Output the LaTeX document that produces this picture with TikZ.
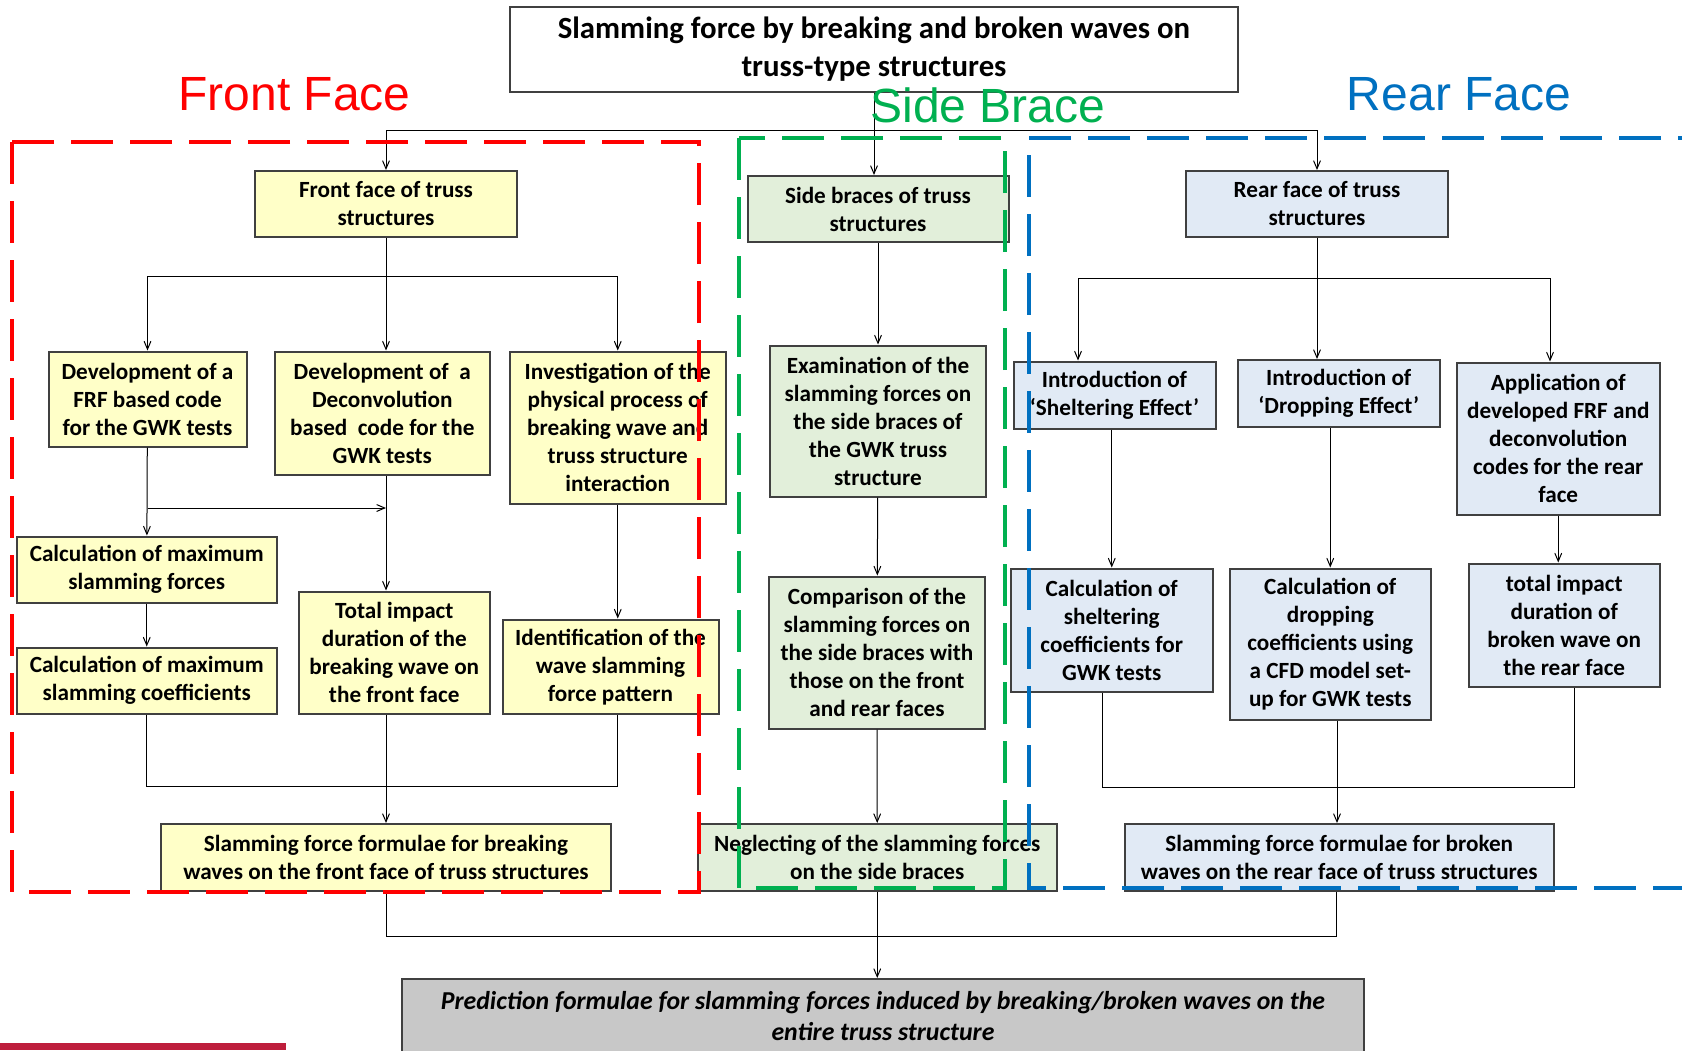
\documentclass[tikz,border=0pt]{standalone}
\usepackage{fontspec}
\setmainfont{Carlito}
\newfontfamily\headfont{Liberation Sans}
\usetikzlibrary{arrows}

\definecolor{faceyellow}{RGB}{255,255,200}
\definecolor{bracegreen}{RGB}{226,239,218}
\definecolor{rearblue}{RGB}{225,234,245}
\definecolor{predgray}{RGB}{200,200,200}
\definecolor{linered}{RGB}{255,0,0}
\definecolor{linegreen}{RGB}{0,176,80}
\definecolor{lineblue}{RGB}{0,112,192}
\definecolor{barred}{RGB}{190,30,60}

\begin{document}
\begin{tikzpicture}[x=0.5pt,y=-0.5pt,>=angle 45]
    \tikzstyle{every node} = [draw=black!75,line width=1pt,align=center,inner sep=0pt,font=\fontsize{11.6}{14}\selectfont\bfseries];
    \tikzstyle{ffbox} = [fill=faceyellow];
    \tikzstyle{sbbox} = [fill=bracegreen];
    \tikzstyle{rfbox} = [fill=rearblue];
    \tikzstyle{zone} = [line width=2pt,dash pattern=on 21pt off 8.5pt];
    \tikzstyle{head} = [draw=none,font=\headfont\fontsize{24}{28}\selectfont];
    \tikzstyle{link} = [line width=0.5pt];
    \useasboundingbox (0,0) rectangle (1682,1050);
    \clip (0,0) rectangle (1682,1050);

    % title
    \node[fill=white,line width=0.75pt,minimum width=364pt,minimum height=42.5pt,font=\fontsize{15.4}{19}\selectfont\bfseries] (t) at (874,49.5)
        {Slamming force by breaking and broken waves on\\truss-type structures};

    % front face
    \node[ffbox,minimum width=131pt,minimum height=33pt] (ff) at (386,204) {Front face of truss\\structures};
    \node[ffbox,minimum width=99pt,minimum height=47.5pt] (frf) at (147.5,399) {Development of a\\FRF based code\\for the GWK tests};
    \node[ffbox,minimum width=107.75pt,minimum height=61.75pt] (dec) at (382.25,413.25) {Development of\ \ a\\Deconvolution\\based\ \ code for the\\GWK tests};
    \node[ffbox,minimum width=107.75pt,minimum height=76pt] (inv) at (617.75,427.5) {Investigation of the\\physical process of\\breaking wave and\\truss structure\\interaction};
    \node[ffbox,minimum width=130.25pt,minimum height=33pt] (cmf) at (146.75,569.5) {Calculation of maximum\\slamming forces};
    \node[ffbox,minimum width=130.25pt,minimum height=33pt] (cmc) at (146.75,680.5) {Calculation of maximum\\slamming coefficients};
    \node[ffbox,minimum width=95.75pt,minimum height=61.25pt] (tif) at (394.25,652.75) {Total impact\\duration of the\\breaking wave on\\the front face};
    \node[ffbox,minimum width=108pt,minimum height=47.25pt] (idf) at (610.5,666.75) {Identification of the\\wave slamming\\force pattern};
    \node[ffbox,minimum width=225pt,minimum height=33.5pt] (sff) at (386,857.5) {Slamming force formulae for breaking\\waves on the front face of truss structures};

    % side braces
    \node[sbbox,minimum width=130.5pt,minimum height=33pt] (sb) at (878,209) {Side braces of truss\\structures};
    \node[sbbox,minimum width=108pt,minimum height=75.5pt] (exa) at (878,421) {Examination of the\\slamming forces on\\the side braces of\\the GWK truss\\structure};
    \node[sbbox,minimum width=108pt,minimum height=76pt] (cmp) at (877,652.5) {Comparison of the\\slamming forces on\\the side braces with\\those on the front\\and rear faces};
    \node[sbbox,minimum width=179.75pt,minimum height=33.5pt] (neg) at (877.25,857.5) {Neglecting of the slamming forces\\on the side braces};

    % rear face
    \node[rfbox,minimum width=131pt,minimum height=33pt] (rf) at (1317,204) {Rear face of truss\\structures};
    \node[rfbox,minimum width=101pt,minimum height=33.5pt] (ise) at (1114.5,395) {Introduction of\\‘Sheltering Effect’};
    \node[rfbox,minimum width=101.25pt,minimum height=33.5pt] (ido) at (1338.75,393.5) {Introduction of\\‘Dropping Effect’};
    \node[rfbox,minimum width=101.75pt,minimum height=76pt] (app) at (1558.25,438.5) {Application of\\developed FRF and\\deconvolution\\codes for the rear\\face};
    \node[rfbox,minimum width=101.25pt,minimum height=61.5pt] (csh) at (1111.75,630) {Calculation of\\sheltering\\coefficients for\\GWK tests};
    \node[rfbox,minimum width=100.75pt,minimum height=75.75pt] (cdr) at (1330.25,644.25) {Calculation of\\dropping\\coefficients using\\a CFD model set-\\up for GWK tests};
    \node[rfbox,minimum width=95.75pt,minimum height=61.75pt] (tir) at (1564.25,625.25) {total impact\\duration of\\broken wave on\\the rear face};
    \node[rfbox,minimum width=214.75pt,minimum height=33.5pt] (srf) at (1339.25,857.5) {Slamming force formulae for broken\\waves on the rear face of truss structures};

    % result
    \node[fill=predgray,minimum width=481pt,minimum height=37pt,font=\fontsize{12.9}{15.5}\selectfont\bfseries\itshape] (pred) at (883,1016)
        {Prediction formulae for slamming forces induced by breaking/broken waves on the\\entire truss structure};

    % connectors
    \coordinate (tj) at (874,130);
    \draw[->,link] (t) -- (t |- sb.north);
    \draw[->,link] (tj) -| (ff);
    \draw[->,link] (tj) -| (rf);

    \coordinate (fj) at (386,276);
    \coordinate (fb) at (147.5,508);
    \coordinate (fk) at (386,786);
    \draw[link] (ff) -- (fj);
    \draw[->,link] (fj) -| (frf);
    \draw[->,link] (fj) -| (inv);
    \draw[->,link] (fj) -- (fj |- dec.north);
    \draw[->,link] (frf) -- (cmf);
    \draw[->,link] (fb) -- (fb -| fj);
    \draw[->,link] (dec.south -| fj) -- (tif.north -| fj);
    \draw[->,link] (cmf) -- (cmc);
    \draw[->,link] (inv.south) -- (inv.south |- idf.north);
    \draw[link] (cmc) |- (fk);
    \draw[link] (inv.south |- idf.south) |- (fk);
    \draw[link] (tif.south -| fk) -- (fk);
    \draw[->,link] (fk) -- (sff);

    \draw[->,link] (sb) -- (exa);
    \draw[->,link] (exa) -- (cmp);
    \draw[->,link] (cmp) -- (neg);

    \coordinate (rj) at (1317,278);
    \coordinate (ra) at (1078,278);
    \coordinate (rc) at (1550,278);
    \coordinate (rk) at (1337,787);
    \coordinate (rl) at (1102,787);
    \coordinate (rm) at (1574,787);
    \draw[link] (rf) -- (rj);
    \draw[link] (ra) -- (rc);
    \draw[->,link] (ra) -- (ra |- ise.north);
    \draw[->,link] (rj) -- (rj |- ido.north);
    \draw[->,link] (rc) -- (rc |- app.north);
    \draw[->,link] (ise.south -| csh.north) -- (csh.north);
    \draw[->,link] (ido.south -| cdr.north) -- (cdr.north);
    \draw[->,link] (app.south) -- (app.south |- tir.north);
    \draw[link] (csh.south -| rl) -- (rl) -- (rm) -- (tir.south -| rm);
    \draw[link] (cdr.south -| rk) -- (rk);
    \draw[->,link] (rk) -- (srf.north -| rk);

    \coordinate (pj) at (386,936);
    \coordinate (pl) at (1336,936);
    \draw[link] (sff) -- (pj) -- (pl) -- (srf.south -| pl);
    \draw[->,link] (neg) -- (neg |- pred.north);

    % dashed zones
    \draw[zone,linered] (12,142) rectangle (699,892);
    \draw[zone,linegreen] (739,138) rectangle (1005,888);
    \draw[zone,lineblue] (1720,138) -- (1029,138) -- (1029,888) -- (1720,888);

    % zone labels
    \node[head,text=linered,anchor=base] (hf) at (294.5,110) {Front Face};
    \node[head,text=linegreen,anchor=base] (hs) at (988,122) {Side Brace};
    \node[head,text=lineblue,anchor=base] (hr) at (1459,110) {Rear Face};

    \fill[barred] (0,1043) rectangle (286,1050);
\end{tikzpicture}
\end{document}
